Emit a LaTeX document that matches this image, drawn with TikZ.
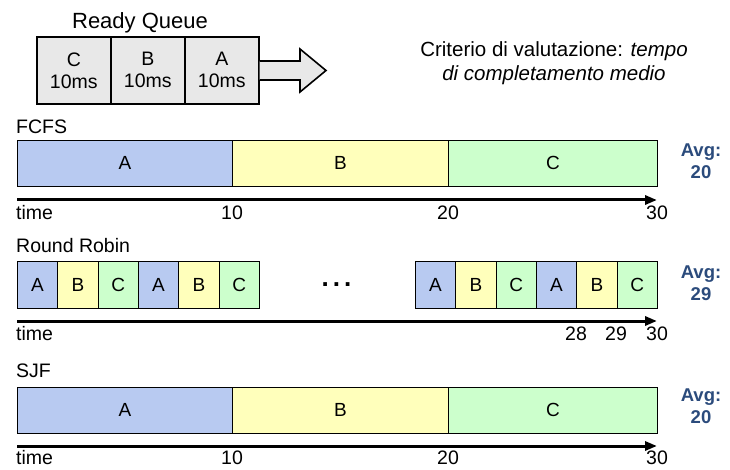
\documentclass[tikz,border=0pt]{standalone}
\usepackage{fontspec}
\setmainfont{Liberation Sans}
\usetikzlibrary{arrows.meta}
\definecolor{cA}{HTML}{B8CAF1}
\definecolor{cB}{HTML}{FFFFBB}
\definecolor{cC}{HTML}{CCFFCC}
\definecolor{avgc}{HTML}{2B4B7C}
\definecolor{qfill}{HTML}{E8E8E8}
\begin{document}
\begin{tikzpicture}[x=1pt,y=-1pt,
  txt/.style={font=\fontsize{19.5}{22}\selectfont, inner sep=0pt},
  seg/.style={draw=black, line width=0.8pt, anchor=north west, inner sep=0pt,
    font=\fontsize{19}{21}\selectfont},
  qbox/.style={draw=black, line width=1.6pt, fill=qfill, minimum width=74pt,
    minimum height=67pt, anchor=north west, inner sep=0pt, align=center,
    font=\fontsize{19.5}{22}\selectfont},
  timeline/.style={line width=3pt, -{Triangle[length=12pt,width=9pt]}},
  avg/.style={font=\bfseries\fontsize{18.5}{22}\selectfont, text=avgc, align=center, inner sep=0pt}
]
\useasboundingbox (0,0) rectangle (730,470);

% Ready queue
\node[txt, font=\fontsize{22}{24}\selectfont] (rq) at (140,23) {Ready Queue};
\node[qbox] (qC) at (36,36) {C\\10ms};
\node[qbox] (qB) at (110,36) {B\\10ms};
\node[qbox] (qA) at (184,36) {A\\10ms};
\draw[line width=1.6pt, fill=qfill, line join=miter]
  (qA.east |- 0,61) -- (300,61) -- (300,49) -- (326,70.5) -- (300,92) -- (300,80) -- (qA.east |- 0,80);

% Criterio
\node[txt, align=center, font=\fontsize{20.5}{24}\selectfont] (crit) at (554,63) {Criterio di valutazione: \textit{tempo}\\ \textit{di completamento medio}};

% FCFS
\node[txt, anchor=west] (lf) at (16,127) {FCFS};
\node[seg, fill=cA, minimum width=215pt, minimum height=46pt] (f1) at (17,140) {A};
\node[seg, fill=cB, minimum width=216pt, minimum height=46pt] (f2) at (232,140) {B};
\node[seg, fill=cC, minimum width=209pt, minimum height=46pt] (f3) at (448,140) {C};
\coordinate (fs) at (17,200);
\coordinate (fe) at (657,200);
\draw[timeline] (fs) -- (fe);
\node[txt, anchor=west] (ft) at (16,213) {time};
\node[txt] (f10) at (232,213) {10};
\node[txt] (f20) at (448,213) {20};
\node[txt] (f30) at (657,213) {30};
\node[avg] (favg) at (701,161) {Avg:\\20};

% Round Robin
\node[txt, anchor=west] (lr) at (16,246) {Round Robin};
\foreach \i/\l/\c in {0/A/cA,1/B/cB,2/C/cC,3/A/cA,4/B/cB,5/C/cC}{
  \node[seg, fill=\c, minimum width=40.33pt, minimum height=47pt] (ra\i) at ({17+40.33*\i},261) {\l};
  \node[seg, fill=\c, minimum width=40.33pt, minimum height=47pt] (rb\i) at ({415+40.33*\i},261) {\l};
}
\node[txt, font=\bfseries\fontsize{26}{28}\selectfont, anchor=base] (dots) at (336.5,286) {.\kern4pt.\kern4pt.};
\coordinate (rs) at (17,321);
\coordinate (re) at (657,321);
\draw[timeline] (rs) -- (re);
\node[txt, anchor=west] (rt) at (16,334) {time};
\node[txt] (r28) at (576,334) {28};
\node[txt] (r29) at (616,334) {29};
\node[txt] (r30) at (657,334) {30};
\node[avg] (ravg) at (701,283) {Avg:\\29};

% SJF
\node[txt, anchor=west] (ls) at (16,371) {SJF};
\node[seg, fill=cA, minimum width=215pt, minimum height=46pt] (s1) at (17,387) {A};
\node[seg, fill=cB, minimum width=216pt, minimum height=46pt] (s2) at (232,387) {B};
\node[seg, fill=cC, minimum width=209pt, minimum height=46pt] (s3) at (448,387) {C};
\coordinate (ss) at (17,446);
\coordinate (se) at (657,446);
\draw[timeline] (ss) -- (se);
\node[txt, anchor=west] (st) at (16,458) {time};
\node[txt] (s10) at (232,458) {10};
\node[txt] (s20) at (448,458) {20};
\node[txt] (s30) at (657,458) {30};
\node[avg] (savg) at (701,406) {Avg:\\20};
\end{tikzpicture}
\end{document}
